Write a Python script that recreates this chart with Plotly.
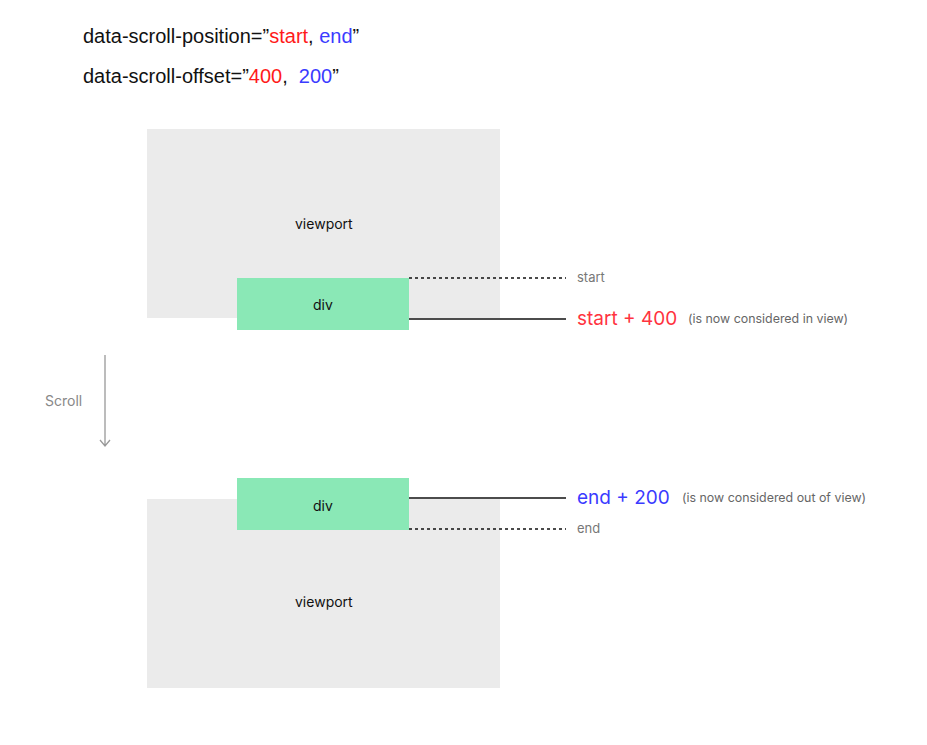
import plotly.graph_objects as go

# ---- diagram data (pixel coordinates on a 927x745 canvas) ----
header_lines = [
    'data-scroll-position=”<span style="color:#ff1a1a">start</span>, <span style="color:#3b3bff">end</span>”',
    'data-scroll-offset=”<span style="color:#ff1a1a">400</span>,  <span style="color:#3b3bff">200</span>”',
]
header_y = [36, 76]

viewport_x0 = [147, 147]
viewport_x1 = [500, 500]
viewport_y0 = [129, 499]
viewport_y1 = [318, 688]
viewport_label_y = [223, 601]

div_x0 = [237, 237]
div_x1 = [409, 409]
div_y0 = [278, 478]
div_y1 = [330, 530]
div_label_y = [304, 505]

marker_y = [278, 319, 498, 529]
marker_dash = ["dot", "solid", "solid", "dot"]
marker_label = ["start", "start + 400", "end + 200", "end"]
marker_color = ["#777777", "#ff3340", "#3b3bff", "#777777"]
marker_size = [13, 19, 19, 13]
note_text = ["(is now considered in view)", "(is now considered out of view)"]
note_y = [318, 497]
note_x = [688, 682]

# the page has an 8px body margin; shift the axis ranges so data units = page pixels
PAGE_OFFSET = 8
TXT_SHIFT = -2  # compensate annotation border padding

fig = go.Figure()
fig.add_trace(go.Scatter(x=[0, 927], y=[0, 745], mode="markers",
                         marker=dict(opacity=0), hoverinfo="skip", showlegend=False))

for i in range(2):
    fig.add_shape(type="rect", x0=viewport_x0[i], x1=viewport_x1[i],
                  y0=viewport_y0[i], y1=viewport_y1[i],
                  fillcolor="#ebebeb", line=dict(width=0), layer="below")
for i in range(2):
    fig.add_shape(type="rect", x0=div_x0[i], x1=div_x1[i],
                  y0=div_y0[i], y1=div_y1[i],
                  fillcolor="#8ae8b6", line=dict(width=0), layer="above")
    fig.add_annotation(x=(div_x0[i] + div_x1[i]) / 2, y=div_label_y[i], text="div",
                       showarrow=False, font=dict(family="Inter", size=14, color="#111111"))
    fig.add_annotation(x=(viewport_x0[i] + viewport_x1[i]) / 2, y=viewport_label_y[i],
                       text="viewport", showarrow=False,
                       font=dict(family="Inter", size=14, color="#111111"))

for i in range(4):
    fig.add_shape(type="line", x0=409, x1=566, y0=marker_y[i], y1=marker_y[i],
                  line=dict(color="#111111", width=1.3, dash=marker_dash[i]))
    fig.add_annotation(x=577, y=marker_y[i] - 1, text=marker_label[i], showarrow=False,
                       xanchor="left", yanchor="middle", xshift=TXT_SHIFT,
                       font=dict(family="Inter", size=marker_size[i], color=marker_color[i]))

for i in range(2):
    fig.add_annotation(x=note_x[i], y=note_y[i], text=note_text[i], showarrow=False,
                       xanchor="left", yanchor="middle", xshift=TXT_SHIFT,
                       font=dict(family="Inter", size=12.4, color="#666666"))

# scroll arrow
fig.add_shape(type="path", path="M 105 355 L 105 446 M 100 440 L 105 446 L 110 440",
              line=dict(color="#999999", width=1.3))
fig.add_annotation(x=45, y=400, text="Scroll", showarrow=False, xanchor="left",
                   yanchor="middle", xshift=TXT_SHIFT,
                   font=dict(family="Inter", size=14, color="#888888"))

for i in range(2):
    fig.add_annotation(x=83, y=header_y[i], text=header_lines[i], showarrow=False,
                       xanchor="left", yanchor="middle", xshift=TXT_SHIFT,
                       font=dict(family="Liberation Sans", size=20, color="#111111"))

fig.update_xaxes(range=[PAGE_OFFSET, 927 + PAGE_OFFSET], visible=False, fixedrange=True)
fig.update_yaxes(range=[745 + PAGE_OFFSET, PAGE_OFFSET], visible=False, fixedrange=True)
fig.update_layout(width=927, height=745, margin=dict(l=0, r=0, t=0, b=0),
                  plot_bgcolor="white", paper_bgcolor="white", showlegend=False)

fig.write_html("out.html")
